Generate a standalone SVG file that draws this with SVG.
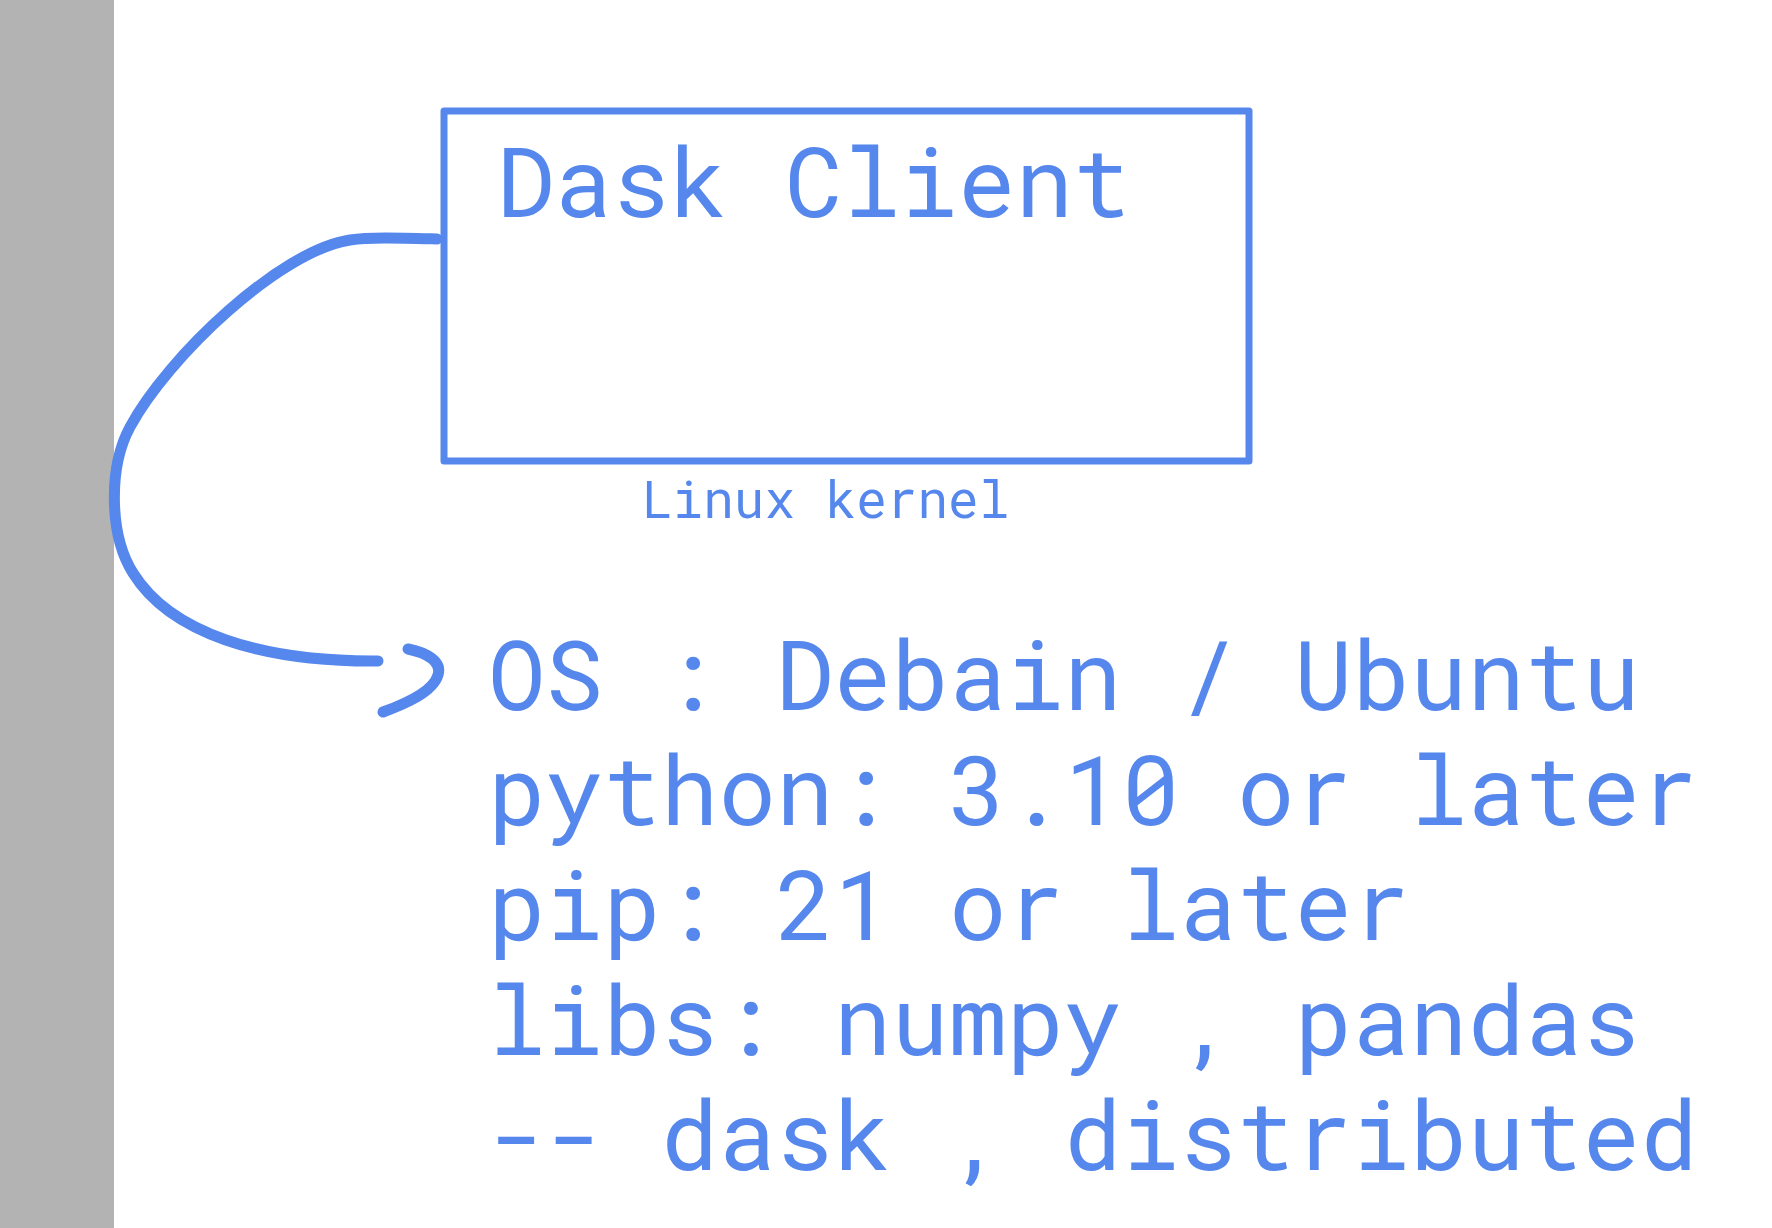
<svg xmlns="http://www.w3.org/2000/svg" width="1772" height="1228" viewBox="0 0 1772 1228">
<style>
.ink{fill:#5587EC;font-family:"Roboto Mono","DejaVu Sans Mono","Liberation Mono",monospace}
.big{font-size:96px}
.small{font-size:51px}
.line{fill:none;stroke:#5587EC;stroke-linecap:round;stroke-linejoin:round}
</style>
<rect x="0" y="0" width="1772" height="1228" fill="#ffffff"/>
<rect id="sidebar" x="0" y="0" width="114" height="1228" fill="#b3b3b3"/>
<g id="dask-client">
<rect x="444" y="111" width="805" height="350" class="line" stroke-width="7"/>
<text x="497" y="217" class="ink big">Dask Client</text>
</g>
<g id="linux-kernel">
<text x="642" y="518" class="ink small">Linux kernel</text>
</g>
<g id="requirements">
<text class="ink big">
<tspan x="488" y="710">OS : Debain / Ubuntu</tspan>
<tspan x="488" y="825">python: 3.10 or later</tspan>
<tspan x="488" y="940">pip: 21 or later</tspan>
<tspan x="488" y="1055">libs: numpy , pandas</tspan>
<tspan x="488" y="1170">-- dask , distributed</tspan>
</text>
</g>
<g id="connectors">
<path class="line" stroke-width="11" d="M437,239 C400,238 370,237 350,240 C280,250.5 167.8,357 130,427 C108.4,467 109,535 133,573 C170,632.5 260,662 378,661"/>
<path class="line" stroke-width="11" d="M408,649 C428,653 442,662 438,675 C433,692 405,704 383,712"/>
</g>
</svg>
